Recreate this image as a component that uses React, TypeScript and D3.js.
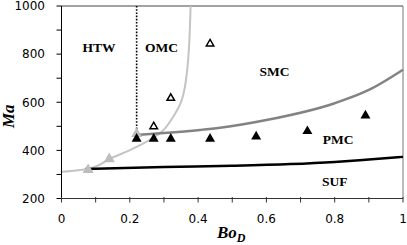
import { useMemo } from "react";
import * as d3 from "d3";

type Pt = [number, number];

// regime boundaries (Bo_D, Ma)
const sufBoundary: Pt[] = [
  [0.07, 323], [0.3, 331], [0.5, 336], [0.67, 343], [0.8, 352], [0.9, 362], [1, 373],
];
const omcBoundary: Pt[] = [
  [0, 311], [0.08, 324], [0.14, 364], [0.2, 401], [0.24, 429], [0.288, 471],
  [0.327, 540], [0.352, 609], [0.369, 748], [0.378, 1000],
];
const smcBoundary: Pt[] = [
  [0.22, 464], [0.3, 472], [0.406, 485], [0.464, 494], [0.6, 526],
  [0.8, 596], [0.9, 651], [1, 735],
];
const htwLine: Pt[] = [[0.22, 1000], [0.22, 470]];

// experimental points
const pmcPoints: Pt[] = [
  [0.22, 450], [0.27, 450], [0.32, 450], [0.435, 450], [0.57, 460], [0.72, 482], [0.89, 547],
];
const smcPoints: Pt[] = [[0.27, 501], [0.32, 619], [0.435, 845]];
const omcPoints: Pt[] = [[0.078, 322], [0.14, 367], [0.22, 471]];

const regionLabels: { text: string; x: number; y: number }[] = [
  { text: "HTW", x: 0.11, y: 810 },
  { text: "OMC", x: 0.293, y: 810 },
  { text: "SMC", x: 0.624, y: 710 },
  { text: "PMC", x: 0.81, y: 425 },
  { text: "SUF", x: 0.8, y: 253 },
];

const xTicks = [0, 0.2, 0.4, 0.6, 0.8, 1];
const xMinor = d3.range(0, 1.0001, 0.1);
const yTicks = [200, 400, 600, 800, 1000];
const yMinor = d3.range(200, 1001, 100);

const W = 407;
const H = 245;
const left = 61.5;
const right = 403;
const top = 6;
const bottom = 198.5;

const tri = (cx: number, cy: number, s: number) => {
  const h = s * 0.87;
  return `M${cx},${cy - h * 0.6}L${cx + s / 2},${cy + h * 0.4}L${cx - s / 2},${cy + h * 0.4}Z`;
};

export default function App() {
  const x = useMemo(() => d3.scaleLinear().domain([0, 1]).range([left, right]), []);
  const y = useMemo(() => d3.scaleLinear().domain([200, 1000]).range([bottom, top]), []);

  const line = d3
    .line<Pt>()
    .x((d) => x(d[0]))
    .y((d) => y(d[1]))
    .curve(d3.curveMonotoneY);
  const lineX = d3
    .line<Pt>()
    .x((d) => x(d[0]))
    .y((d) => y(d[1]))
    .curve(d3.curveMonotoneX);

  const tickFont = "'DejaVu Sans', sans-serif";
  const serif = "'Liberation Serif', 'Times New Roman', serif";

  return (
    <>
      <style>{`body{margin:0}`}</style>
      <svg width={W} height={H} style={{ display: "block", background: "#fff" }}>
        {/* frame */}
        <line x1={left} x2={right} y1={top} y2={top} stroke="#444" strokeWidth={1} />
        <line x1={right} x2={right} y1={top} y2={bottom} stroke="#777" strokeWidth={1} />

        {/* curves */}
        <path d={line(omcBoundary) ?? ""} fill="none" stroke="#c4c4c4" strokeWidth={2} />
        <path d={lineX(smcBoundary) ?? ""} fill="none" stroke="#838383" strokeWidth={2.5} />
        <path d={lineX(sufBoundary) ?? ""} fill="none" stroke="#000" strokeWidth={2.5} />
        <path
          d={d3.line()(htwLine.map((d) => [x(d[0]), y(d[1])]) as [number, number][]) ?? ""}
          stroke="#000"
          strokeWidth={1.6}
          strokeDasharray="1.6,1.6"
        />

        {/* markers */}
        {omcPoints.map((d, i) => (
          <path key={"g" + i} d={tri(x(d[0]), y(d[1]), 11)} fill="#bdbdbd" />
        ))}
        {pmcPoints.map((d, i) => (
          <path key={"b" + i} d={tri(x(d[0]), y(d[1]), 10)} fill="#000" />
        ))}
        {smcPoints.map((d, i) => (
          <path
            key={"o" + i}
            d={tri(x(d[0]), y(d[1]), 7.5)}
            fill="#fff"
            stroke="#000"
            strokeWidth={1.5}
            strokeLinejoin="miter"
          />
        ))}

        {/* region labels */}
        {regionLabels.map((l) => (
          <text
            key={l.text}
            x={x(l.x)}
            y={y(l.y)}
            textAnchor="middle"
            fontFamily={serif}
            fontWeight="bold"
            fontSize={13.5}
          >
            {l.text}
          </text>
        ))}

        {/* axes */}
        <line x1={left} x2={left} y1={top} y2={bottom} stroke="#000" strokeWidth={1} />
        <line x1={left} x2={right} y1={bottom} y2={bottom} stroke="#333" strokeWidth={1} />
        {yMinor.map((v) => (
          <line key={"yt" + v} x1={left - 5} x2={left} y1={y(v)} y2={y(v)} stroke="#000" />
        ))}
        {xMinor.map((v) => (
          <line key={"xt" + v} x1={x(v)} x2={x(v)} y1={bottom - 1.5} y2={bottom + 4} stroke="#333" />
        ))}
        {yTicks.map((v) => (
          <text
            key={"yl" + v}
            x={45}
            y={y(v)}
            dy="0.36em"
            textAnchor="end"
            fontFamily={tickFont}
            fontSize={12}
          >
            {v}
          </text>
        ))}
        {xTicks.map((v) => (
          <text
            key={"xl" + v}
            x={x(v)}
            y={bottom + 24.5}
            textAnchor="middle"
            fontFamily={tickFont}
            fontSize={12}
          >
            {d3.format("~g")(v)}
          </text>
        ))}

        {/* axis titles */}
        <text
          transform={`translate(13.5,${(top + bottom) / 2 + 14}) rotate(-90)`}
          textAnchor="middle"
          fontFamily={serif}
          fontWeight="bold"
          fontStyle="italic"
          fontSize={17}
        >
          Ma
        </text>
        <text
          x={217}
          y={238}
          fontFamily={serif}
          fontWeight="bold"
          fontStyle="italic"
          fontSize={17}
        >
          Bo
          <tspan fontSize={12} dy={4}>
            D
          </tspan>
        </text>
      </svg>
    </>
  );
}
